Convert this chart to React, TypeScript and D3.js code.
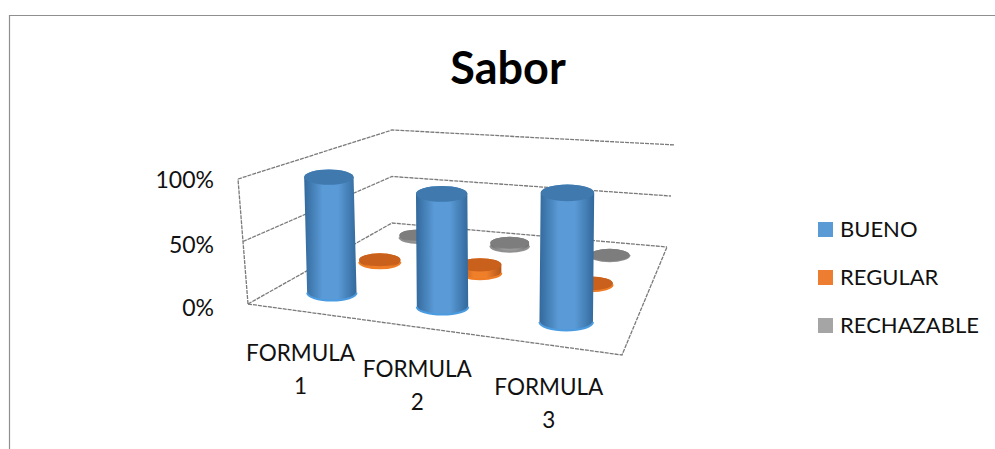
import React from "react";
import * as d3 from "d3";

const title = "Sabor";
const categories = ["FORMULA 1", "FORMULA 2", "FORMULA 3"];
const seriesNames = ["BUENO", "REGULAR", "RECHAZABLE"];
const bueno = [96, 90, 99];
const regular = [2, 7, 1];
const rechazable = [2, 3, 0];
const yTicks = [0, 50, 100];

const seriesValues = [bueno, regular, rechazable];
const legendColors = ["#5b9bd5", "#ed7d31", "#a5a5a5"];
const gridColor = "#7a7a7a";
const font = "Lato, Carlito, sans-serif";

// plot box corners as seen in the picture
const floorFL: [number, number] = [248, 304];
const floorFR: [number, number] = [622, 355];
const floorBR: [number, number] = [667, 247];
const floorBL: [number, number] = [392, 223];
const wallHeight = { fl: 125, fr: 142, br: 102, bl: 93 };
const wallLean = { fl: -10, fr: 4, br: 8, bl: 0 };

function floorProjection() {
  const [x0, y0] = floorFL;
  const [x1, y1] = floorFR;
  const [x2, y2] = floorBR;
  const [x3, y3] = floorBL;
  const sx = x0 - x1 + x2 - x3;
  const sy = y0 - y1 + y2 - y3;
  const dx1 = x1 - x2;
  const dx2 = x3 - x2;
  const dy1 = y1 - y2;
  const dy2 = y3 - y2;
  const den = dx1 * dy2 - dx2 * dy1;
  const g = (sx * dy2 - dx2 * sy) / den;
  const h = (dx1 * sy - sx * dy1) / den;
  const a = x1 - x0 + g * x1;
  const b = x3 - x0 + h * x3;
  const d = y1 - y0 + g * y1;
  const e = y3 - y0 + h * y3;
  return (u: number, v: number): [number, number] => {
    const w = g * u + h * v + 1;
    return [(a * u + b * v + x0) / w, (d * u + e * v + y0) / w];
  };
}

const floor = floorProjection();
const yScale = d3.scaleLinear().domain([0, 100]).range([0, 1]);
const xBand = d3.scaleBand().domain(categories).range([0, 1]);
const zBand = d3.scaleBand().domain(seriesNames).range([0, 1]);

function bilerp(c: { fl: number; fr: number; br: number; bl: number }, u: number, v: number) {
  return (1 - u) * (1 - v) * c.fl + u * (1 - v) * c.fr + u * v * c.br + (1 - u) * v * c.bl;
}

// height of the 100% level at a floor position
function fullHeight(u: number, v: number) {
  const inv = bilerp(
    { fl: 1 / wallHeight.fl, fr: 1 / wallHeight.fr, br: 1 / wallHeight.br, bl: 1 / wallHeight.bl },
    u,
    v
  );
  return 1 / inv;
}

// point in the box: u across, v into the depth, value up
function project(u: number, v: number, value: number, lean = 1): [number, number] {
  const [fx, fy] = floor(u, v);
  const t = yScale(value);
  return [fx + bilerp(wallLean, u, v) * t * lean, fy - t * fullHeight(u, v)];
}

function wallLine(points: [number, number][]) {
  return d3.line()(points) || "";
}

function cylinderPath(cx0: number, cy0: number, cx1: number, cy1: number, rx: number, ry: number) {
  return (
    `M${cx1 - rx},${cy1} L${cx0 - rx},${cy0} ` +
    `A${rx},${ry} 0 0 1 ${cx0 + rx},${cy0} L${cx1 + rx},${cy1} ` +
    `A${rx},${ry} 0 0 1 ${cx1 - rx},${cy1} Z`
  );
}

const gradients = [
  { id: "g0", edge: "#33699c", mid: "#5a9ad6", top: "#3f79ae", bottom: "#4c9be0", size: 0.205 },
  { id: "g1", edge: "#b3561a", mid: "#f07f2c", top: "#c9601c", bottom: "#ef7d28", size: 0.19 },
  { id: "g2", edge: "#6f6f6f", mid: "#9a9a9a", top: "#7d7d7d", bottom: "#8f8f8f", size: 0.19 },
];

const App = () => {
  const marks: React.ReactNode[] = [];
  // draw back row first so the front cylinders cover it
  [2, 1, 0].forEach((s) => {
    const v = (zBand(seriesNames[s]) as number) + zBand.bandwidth() / 2;
    categories.forEach((cat, i) => {
      const u = (xBand(cat) as number) + xBand.bandwidth() / 2;
      const value = seriesValues[s][i];
      const g = gradients[s];
      const rx = fullHeight(u, v) * g.size;
      const ry = rx * 0.31;
      const [bx, by] = project(u, v, 0);
      const [tx, ty] = project(u, v, value, 0.5);
      marks.push(
        <g key={`${s}-${i}`} transform="translate(1.5,0)">
          <path d={cylinderPath(tx, ty, bx, by, rx, ry)} fill={`url(#${g.id})`} />
          <path
            d={`M${bx - rx},${by} A${rx},${ry} 0 0 0 ${bx + rx},${by}`}
            fill="none"
            stroke={g.bottom}
            strokeWidth={2}
          />
          <ellipse cx={tx} cy={ty} rx={rx} ry={ry} fill={g.top} />
        </g>
      );
    });
  });

  const labelOffset = { x: -1, y: 42 };

  return (
    <svg
      width={995}
      height={449}
      style={{ position: "absolute", left: 0, top: 0, display: "block", background: "#fff" }}
    >
      <defs>
        {gradients.map((g) => (
          <linearGradient key={g.id} id={g.id} x1="0" x2="1" y1="0" y2="0">
            <stop offset="0" stopColor={g.edge} />
            <stop offset="0.35" stopColor={g.mid} />
            <stop offset="0.65" stopColor={g.mid} />
            <stop offset="1" stopColor={g.edge} />
          </linearGradient>
        ))}
        <filter id="soft" x="-5%" y="-5%" width="110%" height="110%">
          <feGaussianBlur stdDeviation="0.7" />
        </filter>
      </defs>

      <path d="M9.5,449 V15.5 H995" fill="none" stroke="#8f8f8f" strokeWidth={1.2} />

      <text
        x={508}
        y={84}
        textAnchor="middle"
        fontFamily={font}
        fontWeight={700}
        fontSize={45}
        fill="#000"
      >
        {title}
      </text>

      <g filter="url(#soft)">
        <g fill="none" stroke={gridColor} strokeWidth={1.3} strokeDasharray="4 1">
          {yTicks.map((t) => (
            <path
              key={t}
              d={wallLine([project(0, 0, t), project(0, 1, t), project(1, 1, t)])}
            />
          ))}
          <path d={wallLine([project(0, 0, 0), project(0, 0, 100)])} />
          <path d={wallLine([project(0, 0, 0), project(1, 0, 0), project(1, 1, 0)])} />
        </g>
        {marks}
      </g>

      {yTicks.map((t) => {
        const py = project(0, 0, t)[1];
        return (
          <text
            key={t}
            x={214}
            y={py + (t === 100 ? 9 : 11.5)}
            textAnchor="end"
            fontFamily={font}
            fontSize={23}
            fill="#111"
          >
            {t}%
          </text>
        );
      })}

      {categories.map((cat) => {
        const u = (xBand(cat) as number) + xBand.bandwidth() / 2;
        const [px, py] = floor(u, 0);
        const [w1, w2] = cat.split(" ");
        return (
          <text
            key={cat}
            textAnchor="middle"
            fontFamily={font}
            fontSize={22.5}
            fill="#111"
          >
            <tspan x={px + labelOffset.x} y={py + labelOffset.y + 8}>
              {w1}
            </tspan>
            <tspan x={px + labelOffset.x} y={py + labelOffset.y + 41}>
              {w2}
            </tspan>
          </text>
        );
      })}

      {seriesNames.map((name, i) => (
        <g key={name} transform={`translate(818,${222 + i * 48})`}>
          <rect width={15} height={15} fill={legendColors[i]} />
          <text x={22} y={15} fontFamily={font} fontSize={22} fill="#111">
            {name}
          </text>
        </g>
      ))}
    </svg>
  );
};

export default App;
